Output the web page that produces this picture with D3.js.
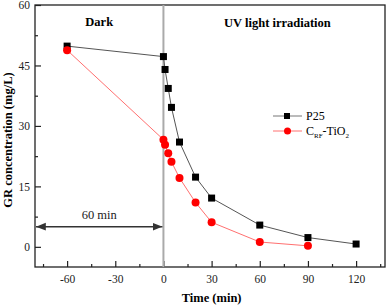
<!DOCTYPE html>
<html>
<head>
<meta charset="utf-8">
<script src="https://cdn.jsdelivr.net/npm/d3@7"></script>
<style>
  body { margin: 0; background: #fff; }
</style>
</head>
<body>
<svg id="chart" width="392" height="306"></svg>
<script>
// data
const timesP25 = [-60, 0, 1, 3, 5, 10, 20, 30, 60, 90, 120];
const valuesP25 = [49.8, 47.2, 44.0, 39.3, 34.6, 26.0, 17.3, 12.1, 5.4, 2.3, 0.7];
const timesCrf = [-60, 0, 1, 3, 5, 10, 20, 30, 60, 90];
const valuesCrf = [48.8, 26.6, 25.3, 23.2, 21.1, 17.1, 11.0, 6.1, 1.2, 0.25];
const xTicks = [-60, -30, 0, 30, 60, 90, 120];
const yTicks = [0, 15, 30, 45, 60];

const FONT = "'Liberation Serif', 'Times New Roman', Times, 'DejaVu Serif', serif";

const margin = {top: 5, right: 7, bottom: 39, left: 35};
const width = 392 - margin.left - margin.right;
const height = 306 - margin.top - margin.bottom;

const svg = d3.select('#chart').attr('font-family', FONT);
const g = svg.append('g')
  .attr('transform', `translate(${margin.left},${margin.top})`);

const x = d3.scaleLinear().domain([-80, 138]).range([0, width]);
const y = d3.scaleLinear().domain([-5, 60]).range([height, 0]);

// frame
g.append('rect')
  .attr('width', width).attr('height', height)
  .attr('fill', 'none').attr('stroke', '#222').attr('stroke-width', 1.3);

// bottom axis, ticks inside
const xAxis = d3.axisBottom(x).tickValues(xTicks).tickSize(-6).tickPadding(8)
  .tickFormat(d => String(d));
const xMinor = d3.axisBottom(x).tickValues(d3.range(-75, 138, 30)).tickSize(-3).tickFormat('');
g.append('g').attr('class', 'x axis').attr('transform', `translate(0,${height})`).call(xAxis);
g.append('g').attr('class', 'x minor').attr('transform', `translate(0,${height})`).call(xMinor);

const yAxis = d3.axisLeft(y).tickValues(yTicks).tickSize(-6).tickPadding(5)
  .tickFormat(d => String(d));
const yMinor = d3.axisLeft(y).tickValues(d3.range(7.5, 60, 15)).tickSize(-3).tickFormat('');
g.append('g').attr('class', 'y axis').call(yAxis);
g.append('g').attr('class', 'y minor').call(yMinor);

g.selectAll('.axis, .minor').attr('font-family', FONT);
g.selectAll('.axis .domain, .minor .domain').remove();
g.selectAll('.axis line, .minor line').attr('stroke', '#222').attr('stroke-width', 1.2);
g.selectAll('.axis text').attr('font-size', 11.5).attr('fill', '#222');

// vertical line at t = 0
g.append('line')
  .attr('x1', x(0)).attr('x2', x(0)).attr('y1', 0).attr('y2', height)
  .attr('stroke', '#aaa').attr('stroke-width', 2);

// 60 min arrow
const defs = svg.append('defs');
defs.append('marker')
  .attr('id', 'arr').attr('viewBox', '0 0 10 10')
  .attr('refX', 10).attr('refY', 5)
  .attr('markerWidth', 7).attr('markerHeight', 7)
  .attr('orient', 'auto-start-reverse')
  .append('path').attr('d', 'M0,1 L10,5 L0,9 Z').attr('fill', '#333');

g.append('line')
  .attr('x1', x(-80) + 1).attr('x2', x(0) - 1)
  .attr('y1', y(5)).attr('y2', y(5))
  .attr('stroke', '#333').attr('stroke-width', 1.4)
  .attr('marker-start', 'url(#arr)').attr('marker-end', 'url(#arr)');

g.append('text')
  .attr('x', x(-40)).attr('y', y(5) - 8)
  .attr('text-anchor', 'middle').attr('font-size', 12.5).attr('fill', '#222')
  .text('60 min');

// region labels
g.append('text')
  .attr('x', x(-40)).attr('y', 21)
  .attr('text-anchor', 'middle').attr('font-size', 12.5).attr('font-weight', 'bold')
  .text('Dark');
g.append('text')
  .attr('x', x(71)).attr('y', 22)
  .attr('text-anchor', 'middle').attr('font-size', 12.5).attr('font-weight', 'bold')
  .text('UV light irradiation');

// series
const line = d3.line().x(d => x(d[0])).y(d => y(d[1]));
const p25 = timesP25.map((t, i) => [t, valuesP25[i]]);
const crf = timesCrf.map((t, i) => [t, valuesCrf[i]]);

g.append('path').datum(p25).attr('d', line)
  .attr('fill', 'none').attr('stroke', '#555').attr('stroke-width', 1);
g.append('path').datum(crf).attr('d', line)
  .attr('fill', 'none').attr('stroke', '#ff7070').attr('stroke-width', 1);

g.selectAll('.sq').data(p25).enter().append('rect')
  .attr('class', 'sq')
  .attr('x', d => x(d[0]) - 3.5).attr('y', d => y(d[1]) - 3.5)
  .attr('width', 7).attr('height', 7).attr('fill', '#000');

g.selectAll('.dot').data(crf).enter().append('circle')
  .attr('class', 'dot')
  .attr('cx', d => x(d[0])).attr('cy', d => y(d[1]))
  .attr('r', 4).attr('fill', '#ff0000');

// legend
const leg = g.append('g').attr('transform', `translate(${273 - margin.left},${116 - margin.top})`);
leg.append('line').attr('x1', 0).attr('x2', 29).attr('y1', 0).attr('y2', 0)
  .attr('stroke', '#777').attr('stroke-width', 1);
leg.append('rect').attr('x', 11).attr('y', -3).attr('width', 6).attr('height', 6).attr('fill', '#000');
leg.append('text').attr('x', 33).attr('y', 4).attr('font-size', 12).text('P25');

leg.append('line').attr('x1', 0).attr('x2', 29).attr('y1', 15).attr('y2', 15)
  .attr('stroke', '#ff7070').attr('stroke-width', 1);
leg.append('circle').attr('cx', 14.5).attr('cy', 15).attr('r', 3.5).attr('fill', '#ff0000');
const lt = leg.append('text').attr('x', 33).attr('y', 19).attr('font-size', 12);
lt.append('tspan').text('C');
lt.append('tspan').attr('font-size', 7).attr('dy', 3).text('RF');
lt.append('tspan').attr('dy', -3).text('-TiO');
lt.append('tspan').attr('font-size', 7).attr('dy', 3).text('2');

// axis titles
svg.append('text')
  .attr('x', margin.left + x(30)).attr('y', 302)
  .attr('text-anchor', 'middle').attr('font-size', 12.5).attr('font-weight', 'bold')
  .text('Time (min)');
svg.append('text')
  .attr('transform', `translate(12,${margin.top + y(26.5)}) rotate(-90)`)
  .attr('text-anchor', 'middle').attr('font-size', 12.5).attr('font-weight', 'bold')
  .text('GR concentration (mg/L)');
</script>
</body>
</html>
